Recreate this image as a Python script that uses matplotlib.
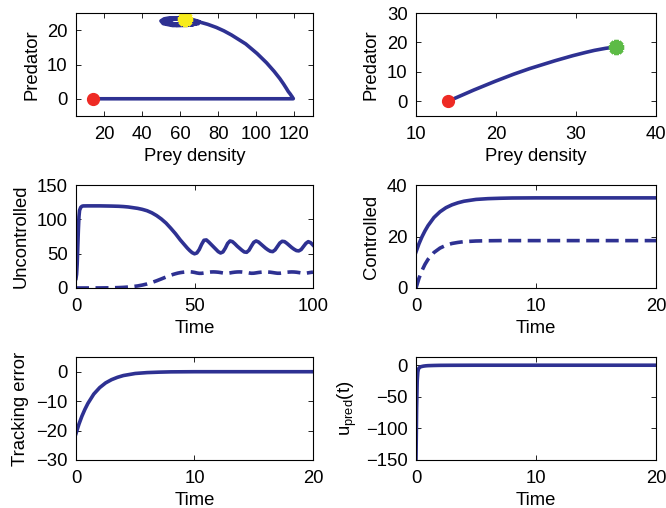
import matplotlib
matplotlib.use("Agg")
import matplotlib.pyplot as plt

plt.rcParams['font.family'] = ['Liberation Sans', 'DejaVu Sans']
plt.rcParams['font.size'] = 13.3
plt.rcParams['mathtext.default'] = 'regular'

# uncontrolled run (prey solid, predator dashed)
t_unc = [0, 0.25, 0.5, 0.75, 1, 1.25, 1.5, 2, 2.5, 3, 5, 10, 15, 18, 20, 22, 24, 26, 28,
         30, 32, 34, 36, 38, 40, 41, 42, 43, 44, 45, 46, 47, 48, 49, 50,
         51, 52, 53, 54, 55, 56, 57, 58, 59, 60, 61, 62, 63, 64, 65, 66, 67, 68, 69, 70,
         71, 72, 73, 74, 75, 76, 77, 78, 79, 80, 81, 82, 83, 84, 85, 86, 87, 88, 89, 90,
         91, 92, 93, 94, 95, 96, 97, 98, 99, 100]
prey_unc = [14, 20, 35, 60, 85, 104, 113, 117.5, 119, 119.5, 119.6, 119.6, 119.3, 119, 118.6, 118, 117, 116, 114.5,
            112.5, 109.5, 105.5, 100.5, 94.5, 87, 83, 79, 74.5, 70, 66, 62, 58, 54.5, 51.5, 49.8,
            51, 56, 63.5, 69.5, 70, 67, 63.5, 60, 56.5, 53, 51, 52.5, 58, 65, 68.5, 67.5, 64.5, 61, 58, 55,
            52.5, 52, 55, 61, 66.5, 68.5, 67, 64, 61, 58, 55.5, 53.5, 53, 55.5, 60.5, 65.5, 68, 67.5, 65, 62,
            59, 56.5, 54.5, 54, 56, 60.5, 65, 67.5, 66, 62.5]
pred_unc = [0.02, 0.02, 0.02, 0.02, 0.02, 0.02, 0.02, 0.02, 0.02, 0.02, 0.05, 0.1, 0.3, 0.6, 0.9, 1.4, 2.1, 3.0, 4.3,
            5.9, 8.0, 10.5, 13.2, 16.0, 18.6, 19.8, 20.8, 21.7, 22.4, 22.9, 23.3, 23.55, 23.6, 23.3, 22.7,
            21.9, 21.35, 21.4, 21.9, 22.5, 23.0, 23.35, 23.45, 23.3, 23.0, 22.5, 21.9, 21.4, 21.5, 22.0, 22.6, 23.05, 23.35, 23.45, 23.3,
            22.95, 22.5, 21.9, 21.45, 21.55, 22.05, 22.6, 23.0, 23.3, 23.4, 23.3, 23.0, 22.5, 21.95, 21.5, 21.5, 21.95, 22.5, 22.95, 23.25,
            23.4, 23.3, 23.0, 22.5, 21.95, 21.5, 21.6, 22.1, 22.7, 23.15]

# controlled run
t_ctrl = [0, 0.25, 0.5, 0.75, 1, 1.5, 2, 2.5, 3, 3.5, 4, 5, 6, 7, 8, 10, 12, 15, 20]
prey_ctrl = [14, 17.2, 19.9, 22.2, 24.2, 27.4, 29.6, 31.2, 32.3, 33.1, 33.7, 34.4, 34.7, 34.85, 34.95, 35, 35, 35, 35]
pred_ctrl = [0, 3.8, 6.8, 9.2, 11.1, 13.8, 15.5, 16.6, 17.3, 17.7, 18.0, 18.25, 18.35, 18.4, 18.4, 18.4, 18.4, 18.4, 18.4]
prey_target = 35

# predator control input
t_u = [0, 0.05, 0.1, 0.15, 0.2, 0.3, 0.4, 0.6, 0.8, 1, 1.5, 2, 3, 5, 10, 20]
u_pred = [-150, -70, -25, -11, -6, -3.5, -2.4, -1.5, -1.0, -0.7, -0.4, -0.2, -0.1, 0, 0, 0]

blue = '#2e3192'
lw = 2.6
dash = (3.6, 1.8)

fig = plt.figure(figsize=(6.66, 5.08), dpi=100)

def make_axes(rect):
    ax = fig.add_axes(rect)
    ax.tick_params(direction='in', top=True, right=True, length=3.5, width=0.6,
                   labelsize=13.3)
    ax.tick_params(axis='x', pad=7.5)
    ax.tick_params(axis='y', pad=6)
    for s in ax.spines.values():
        s.set_linewidth(0.8)
    ax.xaxis.labelpad = 3
    ax.yaxis.labelpad = 5
    return ax

colL, wL = 76 / 666, 237 / 666
colR, wR = 416 / 666, 240 / 666
h = 103 / 508
row1, row2, row3 = 1 - 116 / 508, 1 - 288 / 508, 1 - 460 / 508

# phase plane, uncontrolled
ax1 = make_axes([colL, row1, wL, h])
ax1.plot(prey_unc, pred_unc, color=blue, lw=lw)
ax1.plot(prey_unc[0], pred_unc[0], 'o', color='#ee2a24', ms=8.5)
ax1.plot(prey_unc[-1], pred_unc[-1], marker=(8, 2, 0), color='#f7ec1c', ms=11, mew=3.2)
ax1.set_xlim(5, 130)
ax1.set_ylim(-5, 25)
ax1.set_xticks([20, 40, 60, 80, 100, 120])
ax1.set_yticks([0, 10, 20])
ax1.set_xlabel('Prey density')
ax1.set_ylabel('Predator')

# phase plane, controlled
ax2 = make_axes([colR, row1, wR, h])
ax2.plot(prey_ctrl, pred_ctrl, color=blue, lw=lw)
ax2.plot(prey_ctrl[0], pred_ctrl[0], 'o', color='#ee2a24', ms=8.5)
ax2.plot(prey_ctrl[-1], pred_ctrl[-1], marker=(8, 2, 0), color='#5dbb46', ms=11, mew=3.2)
ax2.set_xlim(10, 40)
ax2.set_ylim(-5, 30)
ax2.set_xticks([10, 20, 30, 40])
ax2.set_yticks([0, 10, 20, 30])
ax2.set_xlabel('Prey density')
ax2.set_ylabel('Predator')

# time series, uncontrolled
ax3 = make_axes([colL, row2, wL, h])
ax3.plot(t_unc, prey_unc, color=blue, lw=lw)
ax3.plot(t_unc, pred_unc, color=blue, lw=lw, ls=(0, dash))
ax3.set_xlim(0, 100)
ax3.set_ylim(0, 150)
ax3.set_xticks([0, 50, 100])
ax3.set_yticks([0, 50, 100, 150])
ax3.set_xlabel('Time')
ax3.set_ylabel('Uncontrolled')

# time series, controlled
ax4 = make_axes([colR, row2, wR, h])
ax4.plot(t_ctrl, prey_ctrl, color=blue, lw=lw)
ax4.plot(t_ctrl, pred_ctrl, color=blue, lw=lw, ls=(0, dash))
ax4.set_xlim(0, 20)
ax4.set_ylim(0, 40)
ax4.set_xticks([0, 10, 20])
ax4.set_yticks([0, 20, 40])
ax4.set_xlabel('Time')
ax4.set_ylabel('Controlled')

# tracking error of prey against target
ax5 = make_axes([colL, row3, wL, h])
err = [p - prey_target for p in prey_ctrl]
ax5.plot(t_ctrl, err, color=blue, lw=lw)
ax5.set_xlim(0, 20)
ax5.set_ylim(-30, 5)
ax5.set_xticks([0, 10, 20])
ax5.set_yticks([-30, -20, -10, 0])
ax5.set_xlabel('Time')
ax5.set_ylabel('Tracking error')

# control input on predator
ax6 = make_axes([colR, row3, wR, h])
ax6.plot(t_u, u_pred, color=blue, lw=lw)
ax6.set_xlim(0, 20)
ax6.set_ylim(-150, 13)
ax6.set_xticks([0, 10, 20])
ax6.set_yticks([-150, -100, -50, 0])
ax6.set_xlabel('Time')
ax6.set_ylabel('$u_{pred}(t)$')

fig.savefig('out.png', dpi=100)
